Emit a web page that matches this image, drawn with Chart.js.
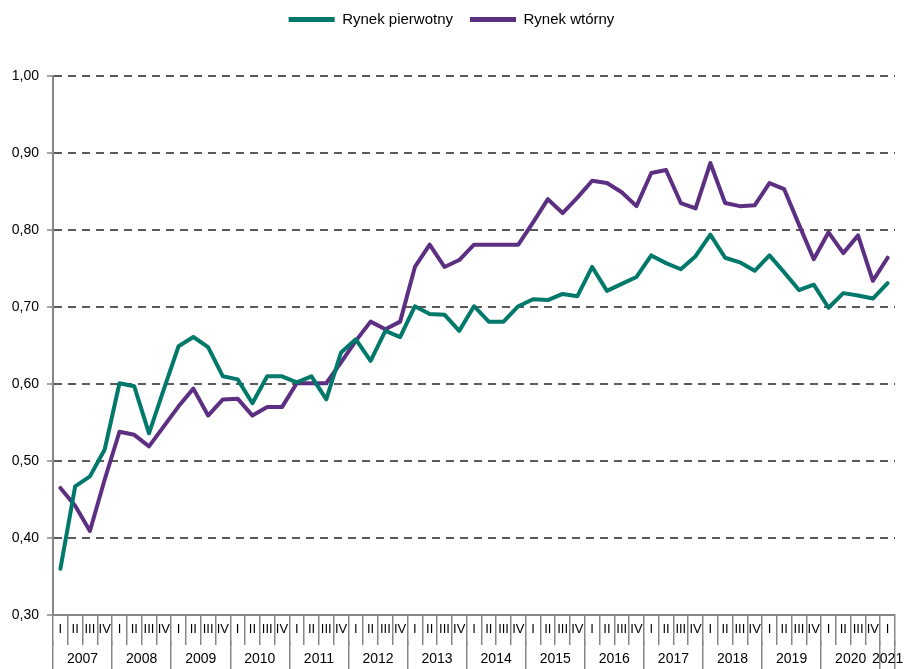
<!DOCTYPE html>
<html><head><meta charset="utf-8">
<script src="https://cdn.jsdelivr.net/npm/chart.js@4/dist/chart.umd.min.js"></script>
<style>html,body{margin:0;padding:0;background:#fff}</style>
</head><body>
<canvas id="c" width="904" height="669"></canvas>
<script>
const years = ['2007','2008','2009','2010','2011','2012','2013','2014','2015','2016','2017','2018','2019','2020','2021'];
const quartersPerYear = [4,4,4,4,4,4,4,4,4,4,4,4,4,4,1];
const quarterNames = ['I','II','III','IV'];
const seriesNames = ['Rynek pierwotny','Rynek wtórny'];
const seriesColors = ['#00796b','#5d2f82'];

const pierwotny = [
  0.360,0.467,0.480,0.515, 0.601,0.597,0.536,0.593, 0.649,0.661,0.648,0.610,
  0.606,0.575,0.610,0.610, 0.602,0.610,0.580,0.641, 0.658,0.630,0.669,0.661,
  0.701,0.691,0.690,0.669, 0.701,0.681,0.681,0.701, 0.710,0.709,0.717,0.714,
  0.752,0.721,0.730,0.739, 0.767,0.757,0.749,0.766, 0.794,0.764,0.758,0.747,
  0.767,0.745,0.722,0.729, 0.699,0.718,0.715,0.711, 0.731
];
const wtorny = [
  0.465,0.442,0.409,0.476, 0.538,0.534,0.519,0.545, 0.571,0.594,0.559,0.580,
  0.581,0.559,0.570,0.570, 0.601,0.601,0.601,0.628, 0.656,0.681,0.671,0.681,
  0.752,0.781,0.752,0.761, 0.781,0.781,0.781,0.781, 0.810,0.840,0.822,0.842,
  0.864,0.861,0.849,0.831, 0.874,0.878,0.835,0.828, 0.887,0.835,0.831,0.832,
  0.861,0.853,0.807,0.762, 0.797,0.770,0.793,0.734, 0.764
];

// derived axis tables
const quarterLabels = [];
const yearTicks = [];
const yearBoundaries = new Set();
let pos = 0;
years.forEach((y, k) => {
  const n = quartersPerYear[k];
  yearTicks.push({value: pos, label: ''});
  yearBoundaries.add(pos);
  yearTicks.push({value: pos + n / 2, label: y});
  for (let q = 0; q < n; q++) quarterLabels.push(quarterNames[q]);
  pos += n;
});
yearTicks.push({value: pos, label: ''});
yearBoundaries.add(pos);

const GRAY = '#878787';
Chart.defaults.font.family = "'Liberation Sans', Arial, sans-serif";
Chart.defaults.color = '#000';

const legendSpacer = {
  id: 'legendSpacer',
  beforeLayout(chart) {
    const lg = chart.legend;
    if (lg && !lg._spaced) {
      const fit = lg.fit;
      lg.fit = function () { fit.call(this); this.height = 81; };
      lg._spaced = true;
    }
  }
};

new Chart(document.getElementById('c'), {
  type: 'line',
  data: {
    labels: quarterLabels,
    datasets: [
      {label: seriesNames[0], data: pierwotny, borderColor: seriesColors[0], backgroundColor: seriesColors[0],
       borderWidth: 4, pointRadius: 0, tension: 0, borderJoinStyle: 'round', borderCapStyle: 'round'},
      {label: seriesNames[1], data: wtorny, borderColor: seriesColors[1], backgroundColor: seriesColors[1],
       borderWidth: 4, pointRadius: 0, tension: 0, borderJoinStyle: 'round', borderCapStyle: 'round'}
    ]
  },
  options: {
    responsive: false,
    animation: false,
    devicePixelRatio: 1,
    layout: {padding: {top: -5, left: 8, right: 9, bottom: 0}},
    plugins: {
      tooltip: {enabled: false},
      legend: {
        position: 'top', align: 'center',
        labels: {
          boxWidth: 46, boxHeight: 5, padding: 17, font: {size: 15}, color: '#000',
          generateLabels: (chart) => chart.data.datasets.map((d, i) => ({
            text: d.label, fillStyle: d.borderColor, strokeStyle: d.borderColor,
            lineWidth: 0, hidden: false, datasetIndex: i
          }))
        }
      }
    },
    scales: {
      y: {
        min: 0.3, max: 1.0,
        afterFit: (s) => { s.width = 45; },
        ticks: {stepSize: 0.1, padding: 8, font: {size: 14}, color: '#000',
                callback: (v) => Number(v).toFixed(2).replace('.', ',')},
        grid: {
          color: (ctx) => (ctx.tick && Math.abs(ctx.tick.value - 0.3) < 1e-6) ? 'rgba(0,0,0,0)' : '#5a5a5a',
          lineWidth: 2, tickLength: 6, tickColor: GRAY, tickWidth: 1.5, tickBorderDash: []
        },
        border: {display: true, color: GRAY, width: 2, dash: [8, 6]}
      },
      x: {
        type: 'category', offset: true, weight: 1,
        afterFit: (s) => { s.height = 26; },
        grid: {offset: true, drawOnChartArea: false, drawTicks: true, tickLength: 30,
               tickColor: GRAY, tickWidth: 1.5, color: GRAY, lineWidth: 1.5},
        border: {display: true, color: GRAY, width: 2},
        ticks: {autoSkip: false, maxRotation: 0, minRotation: 0, padding: -23, font: {size: 13}, color: '#000'}
      },
      x2: {
        type: 'linear', position: 'bottom', weight: 2,
        min: 0, max: pos, offset: false,
        afterFit: (s) => { s.height = 28; },
        afterBuildTicks: (s) => { s.ticks = yearTicks.map(t => ({value: t.value})); },
        grid: {drawOnChartArea: false, drawTicks: true, tickLength: 28, lineWidth: 1.5, tickWidth: 1.5,
               color: GRAY,
               tickColor: (ctx) => (ctx.tick && yearBoundaries.has(ctx.tick.value)) ? GRAY : 'rgba(0,0,0,0)'},
        border: {display: false},
        ticks: {autoSkip: false, maxRotation: 0, minRotation: 0, padding: -18, font: {size: 14}, color: '#000',
                callback: (v, i) => yearTicks[i] ? yearTicks[i].label : ''}
      }
    }
  },
  plugins: [legendSpacer]
});
</script>
</body></html>
